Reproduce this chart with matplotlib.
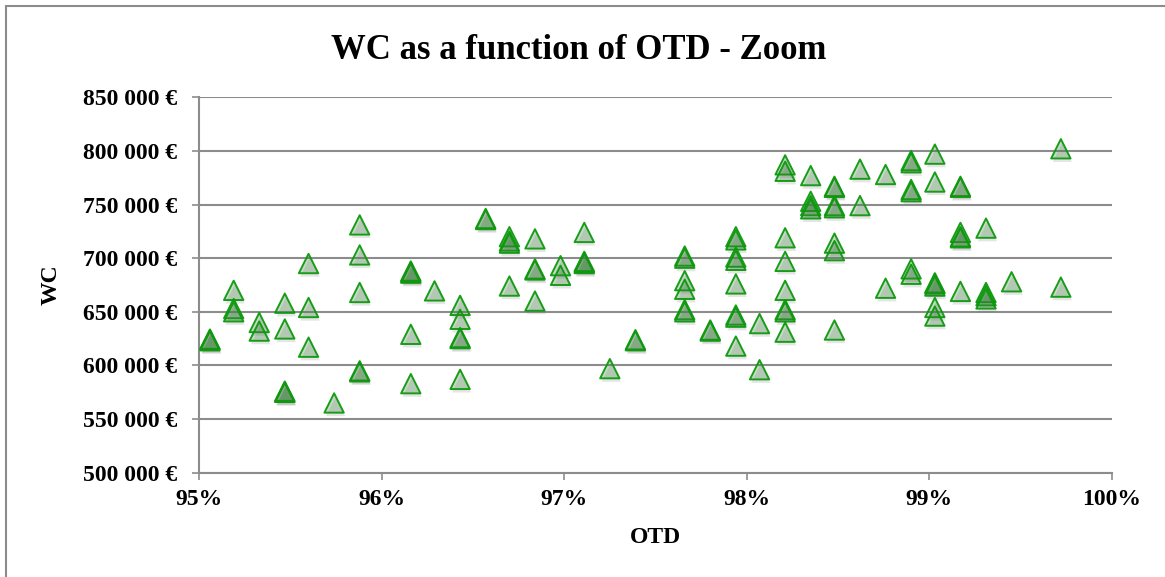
import matplotlib
matplotlib.use("Agg")
import matplotlib.pyplot as plt
import matplotlib.patheffects as pe
from matplotlib.ticker import FuncFormatter, MultipleLocator

# OTD in percent, WC in euros (one entry per point)
otd = [
    95.06, 95.06, 95.06,
    95.19, 95.19, 95.19,
    95.33, 95.33,
    95.47, 95.47, 95.47, 95.47, 95.47,
    95.60, 95.60, 95.60,
    95.74,
    95.88, 95.88, 95.88, 95.88, 95.88,
    96.16, 96.16, 96.16, 96.16, 96.16,
    96.29,
    96.43, 96.43, 96.43, 96.43, 96.43,
    96.57, 96.57,
    96.70, 96.70, 96.70, 96.70,
    96.84, 96.84, 96.84, 96.84,
    96.98, 96.98,
    97.11, 97.11, 97.11, 97.11,
    97.25,
    97.39, 97.39,
    97.66, 97.66, 97.66, 97.66, 97.66, 97.66,
    97.80, 97.80,
    97.94, 97.94, 97.94, 97.94, 97.94, 97.94, 97.94, 97.94,
    98.07, 98.07,
    98.21, 98.21, 98.21, 98.21, 98.21, 98.21, 98.21, 98.21,
    98.35, 98.35, 98.35, 98.35,
    98.48, 98.48, 98.48, 98.48, 98.48, 98.48, 98.48,
    98.62, 98.62,
    98.76, 98.76,
    98.90, 98.90, 98.90, 98.90, 98.90, 98.90,
    99.03, 99.03, 99.03, 99.03, 99.03, 99.03, 99.03,
    99.17, 99.17, 99.17, 99.17, 99.17, 99.17,
    99.31, 99.31, 99.31, 99.31,
    99.45,
    99.72, 99.72,
]
wc = [
    624000, 623000, 624500,
    670000, 653000, 650000,
    640000, 632000,
    658000, 634000, 575000, 575000, 576000,
    695000, 654000, 617000,
    565000,
    731000, 703000, 668000, 595000, 594000,
    687000, 686000, 688000, 629000, 583000,
    669500,
    656000, 643000, 625000, 626000, 587000,
    736000, 737000,
    720000, 716000, 714000, 674000,
    718000, 689000, 690000, 660000,
    693000, 684000,
    724000, 696000, 695000, 697000,
    597000,
    624000, 623000,
    702000, 700000, 679000, 671000, 652000, 650000,
    633000, 632000,
    720000, 717000, 701000, 698000, 676000, 647000, 645000, 618000,
    639000, 596000,
    787000, 781000, 719000, 697000, 670000, 652000, 650000, 631000,
    777000, 753000, 749000, 746000,
    766000, 767000, 749000, 747000, 714000, 707000, 633000,
    783000, 749000,
    778000, 672000,
    791000, 789000, 764000, 762000, 690000, 685000,
    797000, 771000, 677000, 676000, 674000, 654000, 646000,
    767000, 766000, 724000, 720000, 719000, 669000,
    728000, 668000, 665000, 662000,
    678000,
    802000, 673000,
]

title = "WC as a function of OTD - Zoom"
font = "Liberation Serif"
grid_col = "#8c8c8c"

fig = plt.figure(figsize=(11.65, 5.77), dpi=100)
ax = fig.add_axes([0.1708, 0.1808, 0.7837, 0.6506])

# chart frame
fig.add_artist(plt.Rectangle((6 / 1165, -0.1), 1.2, 1 - 6 / 577 + 0.1,
                             transform=fig.transFigure, fill=False,
                             edgecolor=grid_col, lw=1.5))

ax.scatter(otd, wc, marker="^", s=195,
           facecolor=(0.2, 0.5, 0.2, 0.28), edgecolor=(0.05, 0.6, 0.05, 0.95),
           linewidth=1.4, zorder=3,
           path_effects=[pe.SimplePatchShadow(offset=(1, -2.5), shadow_rgbFace="0.5", alpha=0.2),
                         pe.Normal()])

ax.set_xlim(95, 100)
ax.set_ylim(500000, 850000)
ax.xaxis.set_major_locator(MultipleLocator(1))
ax.yaxis.set_major_locator(MultipleLocator(50000))
ax.xaxis.set_major_formatter(FuncFormatter(lambda v, p: f"{v:.0f}%"))
ax.yaxis.set_major_formatter(
    FuncFormatter(lambda v, p: f"{int(v):,} €".replace(",", " ")))

ax.grid(axis="y", color=grid_col, lw=1.5)
ax.set_axisbelow(True)
for side in ("top", "right"):
    ax.spines[side].set_visible(False)
for side in ("left", "bottom"):
    ax.spines[side].set_color(grid_col)
    ax.spines[side].set_linewidth(1.5)
ax.tick_params(axis="both", direction="out", length=5, width=1.2, color=grid_col)
ax.tick_params(axis="y", pad=11)
ax.tick_params(axis="x", pad=7)

for lab in ax.get_xticklabels() + ax.get_yticklabels():
    lab.set_fontfamily(font)
    lab.set_fontweight("bold")
    lab.set_fontsize(17)

ax.set_xlabel("OTD", fontfamily=font, fontweight="bold", fontsize=17, labelpad=12)
ax.set_ylabel("WC", fontfamily=font, fontweight="bold", fontsize=17, labelpad=15)
fig.text(0.497, 0.913, title, ha="center", va="center",
         fontfamily=font, fontweight="bold", fontsize=25)

fig.savefig("out.png", dpi=100)
